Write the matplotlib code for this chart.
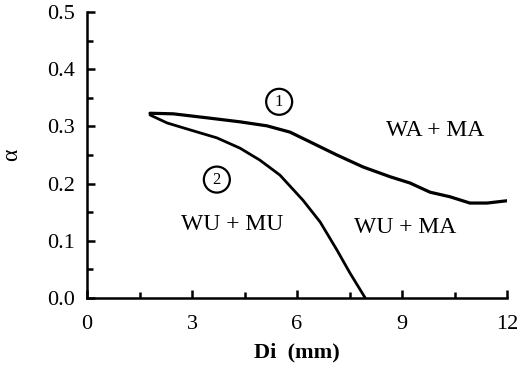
import matplotlib
matplotlib.use('Agg')
from matplotlib import pyplot as plt
from matplotlib.ticker import MultipleLocator

# Boundary 1 (WA+MA above it)
di_1 = [1.80, 2.46, 3.43, 4.37, 5.14, 5.80, 6.37, 7.14, 7.89, 8.66,
        9.23, 9.80, 10.37, 10.94, 11.43, 12.0]
alpha_1 = [0.323, 0.322, 0.315, 0.308, 0.301, 0.290, 0.273, 0.250, 0.229, 0.212,
           0.201, 0.185, 0.177, 0.166, 0.166, 0.170]

# Boundary 2 (WU+MU / WU+MA)
di_2 = [1.80, 2.29, 2.94, 3.71, 4.37, 4.94, 5.51, 6.17, 6.66, 7.14, 7.51, 7.95]
alpha_2 = [0.320, 0.306, 0.294, 0.280, 0.262, 0.241, 0.215, 0.171, 0.133, 0.084, 0.044, 0.0]

plt.rcParams['font.family'] = ['Liberation Serif', 'DejaVu Serif']

fig = plt.figure(figsize=(5.2, 3.69), dpi=100)
ax = fig.add_axes([87/520., 1 - 298/369., 420/520., 286/369.])

ax.plot(di_1, alpha_1, 'k-', lw=2.3, solid_joinstyle='round', solid_capstyle='round')
ax.plot(di_2, alpha_2, 'k-', lw=2.0, solid_joinstyle='round', solid_capstyle='round')

ax.set_xlim(0, 12)
ax.set_ylim(0, 0.5)
ax.xaxis.set_major_locator(MultipleLocator(3))
ax.xaxis.set_minor_locator(MultipleLocator(1.5))
ax.set_yticks([0, 0.1, 0.2, 0.3, 0.4, 0.5])
ax.set_yticklabels(['0.0', '0.1', '0.2', '0.3', '0.4', '0.5'])
ax.yaxis.set_minor_locator(MultipleLocator(0.05))
ax.tick_params(which='both', direction='in', width=1.8, labelsize=16)
ax.tick_params(which='major', length=6)
ax.tick_params(which='minor', length=4)
ax.tick_params(axis='x', pad=12)
ax.tick_params(axis='y', pad=9)
for s in ['top', 'right']:
    ax.spines[s].set_visible(False)
for s in ['left', 'bottom']:
    ax.spines[s].set_linewidth(1.8)

ax.set_xlabel('Di  (mm)', fontsize=16, fontweight='bold', labelpad=6)
ax.set_ylabel('α', fontsize=17, labelpad=18)

ax.text(9.95, 0.292, 'WA + MA', fontsize=17, ha='center', va='center')
ax.text(4.15, 0.128, 'WU + MU', fontsize=17, ha='center', va='center')
ax.text(9.1, 0.123, 'WU + MA', fontsize=17, ha='center', va='center')

circ = dict(boxstyle='circle,pad=0.3', fc='white', ec='black', lw=1.6)
ax.text(5.49, 0.343, '1', fontsize=12, ha='center', va='center', bbox=circ)
ax.text(3.71, 0.207, '2', fontsize=12, ha='center', va='center', bbox=circ)

plt.savefig('out.png', dpi=100)
